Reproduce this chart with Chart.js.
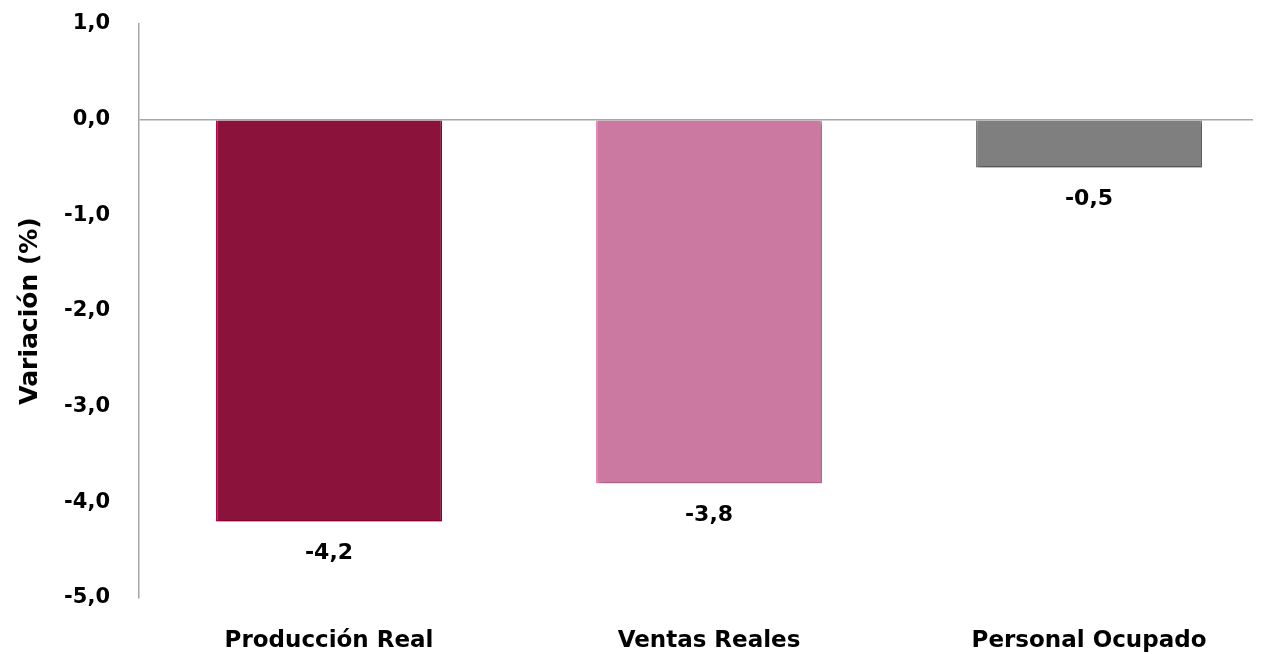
<!DOCTYPE html>
<html>
<head>
<meta charset="utf-8">
<script src="https://cdn.jsdelivr.net/npm/chart.js@4"></script>
<style>
  body { margin: 0; background: #fff; }
  #wrap { width: 1266px; height: 654px; position: relative; }
</style>
</head>
<body>
<div id="wrap"><canvas id="myChart"></canvas></div>
<script>
const categories = ['Producción Real', 'Ventas Reales', 'Personal Ocupado']
const values = [-4.2, -3.8, -0.5]
const barColors = ['#8B133B', '#CC79A1', '#7F7F7F']
const borderColors = ['#C0004A', '#F48CC0', '#7F7F7F']
const yMin = -5
const yMax = 1

const fmt = v => v.toFixed(1).replace('.', ',')
const fontFamily = '"DejaVu Sans", sans-serif'

// en el original el eje de categorías sigue un poco más allá del borde
const widerX = {
    id: 'widerX',
    afterLayout(chart) {
        const x = chart.scales.x
        x.right += 26
        x.width += 26
        x.configure()
    }
}

// sombra suave bajo las barras
const shadowPlugin = {
    id: 'barShadow',
    beforeDatasetDraw(chart) {
        const c = chart.ctx
        c.save()
        c.shadowColor = 'rgba(0,0,0,0.35)'
        c.shadowBlur = 4
        c.shadowOffsetX = 2
        c.shadowOffsetY = 3
    },
    afterDatasetDraw(chart) {
        chart.ctx.restore()
    }
}

// etiquetas de valor debajo de cada barra
const valueLabels = {
    id: 'valueLabels',
    afterDatasetsDraw(chart) {
        const c = chart.ctx
        const meta = chart.getDatasetMeta(0)
        c.save()
        c.font = 'bold 22px ' + fontFamily
        c.fillStyle = '#000'
        c.textAlign = 'center'
        c.textBaseline = 'middle'
        meta.data.forEach((bar, i) => {
            c.fillText(fmt(values[i]), bar.x, bar.y + 32)
        })
        c.restore()
    }
}

const ctx = document.getElementById('myChart').getContext('2d')
const myChart = new Chart(ctx, {
    type: 'bar',
    data: {
        labels: categories,
        datasets: [{
            data: values,
            backgroundColor: barColors,
            borderColor: borderColors,
            borderWidth: 1.5,
            categoryPercentage: 1,
            barPercentage: 0.595
        }]
    },
    options: {
        responsive: true,
        maintainAspectRatio: false,
        animation: false,
        layout: { padding: { top: 24, right: 13, bottom: 0, left: 0 } },
        plugins: {
            legend: { display: false },
            tooltip: { enabled: false }
        },
        scales: {
            x: {
                grid: { display: false },
                border: { display: false },
                ticks: {
                    color: '#000',
                    padding: 21,
                    font: { family: fontFamily, size: 23, weight: 'bold' }
                },
                afterFit: s => {
                    s.height = 56
                    s.paddingLeft = 0
                    s.paddingRight = 0
                }
            },
            y: {
                min: yMin,
                max: yMax,
                grid: {
                    drawTicks: false,
                    color: c => c.tick && c.tick.value === 0 ? '#A6A6A6' : 'rgba(0,0,0,0)',
                    lineWidth: 1.5
                },
                border: { display: true, color: '#A6A6A6', width: 1.5 },
                ticks: {
                    stepSize: 1,
                    color: '#000',
                    padding: 29,
                    font: { family: fontFamily, size: 21, weight: 'bold' },
                    callback: v => fmt(v)
                },
                title: {
                    display: true,
                    text: 'Variación (%)',
                    color: '#000',
                    font: { family: fontFamily, size: 25, weight: 'bold' },
                    padding: { top: 15, bottom: 0 }
                },
                afterFit: s => {
                    s.width = 139
                    s.paddingTop = 0
                    s.paddingBottom = 0
                }
            }
        }
    },
    plugins: [widerX, shadowPlugin, valueLabels]
})
</script>
</body>
</html>
